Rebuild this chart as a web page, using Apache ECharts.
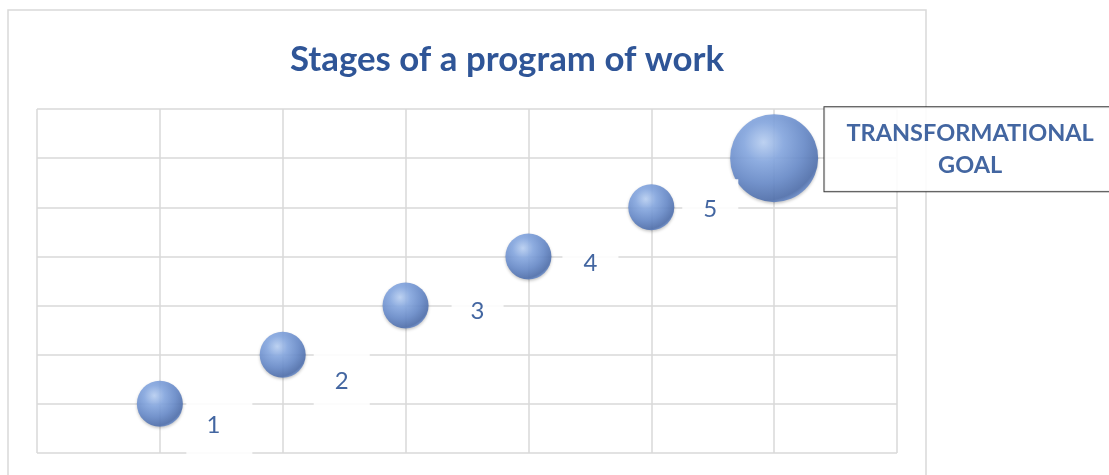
<!DOCTYPE html>
<html>
<head>
<meta charset="utf-8">
<script src="https://cdn.jsdelivr.net/npm/echarts@6/dist/echarts.min.js"></script>
<style>
  html, body { margin: 0; padding: 0; background: #fff; }
  #main { width: 1109px; height: 475px; }
</style>
</head>
<body>
<div id="main"></div>
<script>
// stages of the program (x = stage, y = stage, bubble size)
var stageX = [1, 2, 3, 4, 5, 6];
var stageY = [1, 2, 3, 4, 5, 6];
var bubbleSize = [1, 1, 1, 1, 1, 3.66];
var stageLabels = ['1', '2', '3', '4', '5', 'TRANSFORMATIONAL\nGOAL'];

// where each label box sits relative to its bubble centre
var labelOffsets = [[59.5, 21], [59, 27], [72, 6], [62, 7], [59, 2], [196, -9]];
var labelWidths = [54, 56, 52, 56, 56];
var labelPads = [[0, 12, 0, 0], 0, 0, 0, 0];

var textBlue = '#2F5597';

var ballColor = new echarts.graphic.RadialGradient(0.38, 0.32, 0.75, [
    {offset: 0, color: '#bcd3f6'},
    {offset: 0.3, color: '#88aae3'},
    {offset: 0.62, color: '#6a8dcc'},
    {offset: 0.88, color: '#5171ae'},
    {offset: 1, color: '#7c9fdc'}
]);

var myChart = echarts.init(document.getElementById('main'));

var data = stageX.map(function (x, i) {
    var item = {
        value: [x, stageY[i], bubbleSize[i]],
        name: stageLabels[i]
    };
    if (i < 5) {
        item.label = {
            show: true,
            position: 'inside',
            offset: labelOffsets[i],
            formatter: '{b}',
            color: textBlue,
            fontFamily: 'Lato',
            fontSize: 24,
            backgroundColor: '#fff',
            width: labelWidths[i],
            height: 60,
            padding: labelPads[i],
            align: 'center',
            verticalAlign: 'middle',
            lineHeight: 60
        };
    } else {
        // the goal gets a framed box on the right
        item.label = {
            show: true,
            position: 'inside',
            offset: labelOffsets[i],
            formatter: '{b}',
            color: textBlue,
            fontFamily: 'Lato',
            fontWeight: 'bold',
            fontSize: 23.5,
            lineHeight: 32,
            align: 'center',
            verticalAlign: 'middle',
            backgroundColor: '#fff',
            borderColor: '#222',
            borderWidth: 1,
            padding: [10, 22, 10, 22]
        };
    }
    return item;
});

var option = {
    backgroundColor: '#fff',
    animation: false,
    title: {
        text: 'Stages of a program of work',
        left: 285,
        top: 37,
        textStyle: {
            color: textBlue,
            fontFamily: 'Lato',
            fontWeight: 'bold',
            fontSize: 34.8
        }
    },
    graphic: [{
        type: 'rect',
        shape: {x: 8, y: 10, width: 918, height: 480},
        style: {fill: 'none', stroke: '#d9d9d9', lineWidth: 1.5},
        z: -1
    }],
    grid: {
        left: 37,
        top: 109,
        right: 212,
        bottom: 22
    },
    xAxis: {
        type: 'value',
        min: 0,
        max: 7,
        interval: 1,
        axisLine: {show: false},
        axisTick: {show: false},
        axisLabel: {show: false},
        splitLine: {lineStyle: {color: '#d9d9d9', width: 1.5}}
    },
    yAxis: {
        type: 'value',
        min: 0,
        max: 7,
        interval: 1,
        axisLine: {show: false},
        axisTick: {show: false},
        axisLabel: {show: false},
        splitLine: {lineStyle: {color: '#d9d9d9', width: 1.5}}
    },
    series: [{
        type: 'scatter',
        data: data,
        symbolSize: function (val) {
            return 46 * Math.sqrt(val[2]);
        },
        itemStyle: {
            color: ballColor,
            opacity: 0.9,
            shadowBlur: 3,
            shadowOffsetY: 1.5,
            shadowColor: 'rgba(0,0,0,0.25)'
        },
        emphasis: {disabled: true}
    }]
};

myChart.setOption(option);
</script>
</body>
</html>
